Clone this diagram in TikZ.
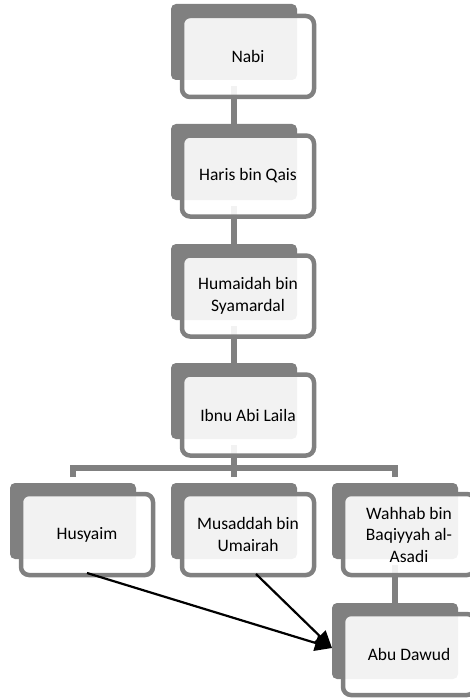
\documentclass[tikz,border=0pt]{standalone}
\usepackage{fontspec}
\setmainfont{Carlito}
\usetikzlibrary{arrows.meta}
\definecolor{boxgray}{HTML}{808080}
\tikzset{
  backbox/.style={rectangle, rounded corners=5pt, fill=boxgray, draw=none,
    minimum width=126pt, minimum height=76pt, inner sep=0pt, outer sep=0pt},
  frontbox/.style={rectangle, rounded corners=8pt, draw=boxgray, line width=4.5pt,
    fill=white, fill opacity=0.9, text opacity=1, draw opacity=1,
    minimum width=132pt, minimum height=81pt, inner sep=0pt, outer sep=0pt,
    align=center, text=black, font=\fontsize{17.5}{21.5}\selectfont},
  link/.style={draw=boxgray, line width=5.5pt},
  arr/.style={draw=black, line width=2.2pt, -{Triangle[length=17pt,width=16pt]}}
}
\begin{document}
\begin{tikzpicture}[x=1pt,y=-1pt]
\useasboundingbox (0,0) rectangle (470,698);
\clip (0,0) rectangle (470,698);
% back boxes
\node[backbox] (nabiB) at (234,42) {};
\node[backbox] (harisB) at (234,162) {};
\node[backbox] (humB) at (234,282) {};
\node[backbox] (ibnuB) at (234,401) {};
\node[backbox] (husB) at (73,521) {};
\node[backbox] (musB) at (234,521) {};
\node[backbox] (wahB) at (395,521) {};
\node[backbox] (abuB) at (395,641) {};
% connectors
\draw[link] ([yshift=-6pt]nabiB.south) -- (harisB.north);
\draw[link] ([yshift=-6pt]harisB.south) -- (humB.north);
\draw[link] ([yshift=-6pt]humB.south) -- (ibnuB.north);
\coordinate (busM) at (234,468);
\coordinate (busL) at (73,468);
\coordinate (busR) at (395,468);
\draw[link] ([yshift=-6pt]ibnuB.south) -- (busM);
\draw[link] ([yshift=6pt]husB.north) -- (busL) -- (busR) -- ([yshift=6pt]wahB.north);
\draw[link] (busM) -- ([yshift=6pt]musB.north);
\draw[link] ([yshift=-6pt]wahB.south) -- (abuB.north);
% front boxes with text
\node[frontbox] (nabiF) at (248,56.5) {Nabi};
\node[frontbox] (harisF) at (248,176) {Haris bin Qais};
\node[frontbox] (humF) at (248,296) {Humaidah bin\\Syamardal};
\node[frontbox] (ibnuF) at (248,415) {Ibnu Abi Laila};
\node[frontbox] (husF) at (87,534.5) {Husyaim};
\node[frontbox] (musF) at (248,534.5) {Musaddah bin\\Umairah};
\node[frontbox] (wahF) at (409,534.5) {Wahhab bin\\Baqiyyah al-\\Asadi};
\node[frontbox] (abuF) at (409,654.5) {Abu Dawud};
% arrows
\draw[arr] ([yshift=2pt]husF.south) -- ([yshift=-7pt]abuB.west);
\draw[arr] ([xshift=8pt,yshift=1pt]musF.south) -- ([yshift=-7pt]abuB.west);
\end{tikzpicture}
\end{document}
